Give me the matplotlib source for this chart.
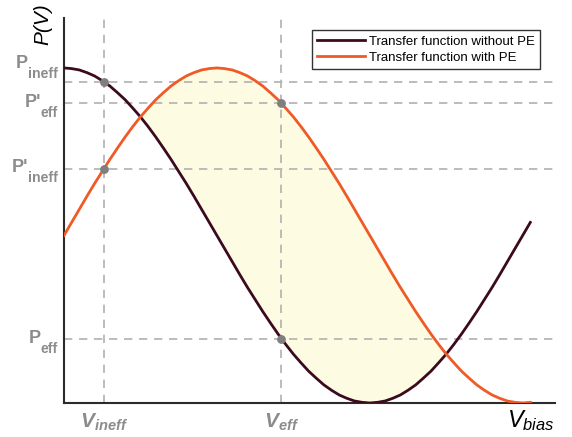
import matplotlib.pyplot as plt

plt.rcParams['font.family'] = ['Liberation Sans', 'DejaVu Sans']
plt.rcParams['mathtext.fontset'] = 'custom'
plt.rcParams['mathtext.rm'] = 'Liberation Sans'
plt.rcParams['mathtext.it'] = 'Liberation Sans:italic'
plt.rcParams['mathtext.bf'] = 'Liberation Sans:bold'
plt.rcParams['mathtext.sf'] = 'Liberation Sans:bold:italic'

# bias voltage (in units of pi) and normalised power
v_bias = [0.000, 0.025, 0.050, 0.075, 0.100, 0.125, 0.150, 0.175, 0.200, 0.225,
          0.250, 0.275, 0.300, 0.325, 0.350, 0.375, 0.400, 0.425, 0.450, 0.475,
          0.500, 0.525, 0.550, 0.575, 0.600, 0.625, 0.650, 0.675, 0.700, 0.725,
          0.750, 0.775, 0.800, 0.825, 0.850, 0.875, 0.900, 0.925, 0.950, 0.975,
          1.000, 1.025, 1.050, 1.075, 1.100, 1.125, 1.150, 1.175, 1.200, 1.225,
          1.250, 1.275, 1.300, 1.325, 1.350, 1.375, 1.400, 1.425, 1.450, 1.475,
          1.500, 1.525]
p_without_pe = [1.000, 0.998, 0.994, 0.986, 0.976, 0.962, 0.946, 0.926, 0.905, 0.880,
                0.854, 0.825, 0.794, 0.761, 0.727, 0.691, 0.655, 0.617, 0.578, 0.539,
                0.500, 0.461, 0.422, 0.383, 0.345, 0.309, 0.273, 0.239, 0.206, 0.175,
                0.146, 0.120, 0.095, 0.074, 0.054, 0.038, 0.024, 0.014, 0.006, 0.002,
                0.000, 0.002, 0.006, 0.014, 0.024, 0.038, 0.054, 0.074, 0.095, 0.120,
                0.146, 0.175, 0.206, 0.239, 0.273, 0.309, 0.345, 0.383, 0.422, 0.461,
                0.500, 0.539]
p_with_pe = [0.500, 0.539, 0.578, 0.617, 0.655, 0.691, 0.727, 0.761, 0.794, 0.825,
             0.854, 0.880, 0.905, 0.926, 0.946, 0.962, 0.976, 0.986, 0.994, 0.998,
             1.000, 0.998, 0.994, 0.986, 0.976, 0.962, 0.946, 0.926, 0.905, 0.880,
             0.854, 0.825, 0.794, 0.761, 0.727, 0.691, 0.655, 0.617, 0.578, 0.539,
             0.500, 0.461, 0.422, 0.383, 0.345, 0.309, 0.273, 0.239, 0.206, 0.175,
             0.146, 0.120, 0.095, 0.074, 0.054, 0.038, 0.024, 0.014, 0.006, 0.002,
             0.000, 0.002]

# operating points
v_ineff = 0.13
v_eff = 0.71
p_ineff = 0.958
p_eff = 0.191
p_prime_eff = 0.896
p_prime_ineff = 0.697

dark = '#3b0a1f'
orange = '#ef5a27'
grid_gray = '#b0b0b0'
label_gray = '#8c8c8c'

fig = plt.figure(figsize=(5.72, 4.37), dpi=100)
ax = fig.add_axes([0.1119, 0.0778, 0.858, 0.881])

# shaded region where PE curve sits above the plain one
ax.fill_between(v_bias, p_without_pe, p_with_pe,
                where=[b >= a for a, b in zip(p_without_pe, p_with_pe)],
                interpolate=True, color='#fdfce3', zorder=1)

# dashed guide lines
for v in [v_ineff, v_eff]:
    ax.axvline(v, color=grid_gray, ls=(0, (5, 4)), lw=1.2, zorder=2)
for p in [p_ineff, p_eff, p_prime_eff, p_prime_ineff]:
    ax.axhline(p, color=grid_gray, ls=(0, (5, 4)), lw=1.2, zorder=2)

ax.plot(v_bias, p_without_pe, color=dark, lw=2.0, label='Transfer function without PE', zorder=3)
ax.plot(v_bias, p_with_pe, color=orange, lw=2.0, label='Transfer function with PE', zorder=3)

ax.scatter([v_ineff, v_eff, v_ineff, v_eff],
           [p_ineff, p_eff, p_prime_ineff, p_prime_eff],
           s=40, color='#7f7f7f', zorder=4, linewidths=0)

ax.set_xlim(0, 1.605)
ax.set_ylim(0, 1.149)
ax.set_xticks([])
ax.set_yticks([])
for s in ['top', 'right']:
    ax.spines[s].set_visible(False)
for s in ['left', 'bottom']:
    ax.spines[s].set_color('#2b2b2b')
    ax.spines[s].set_linewidth(1.5)

# y side labels: main letter + subscript, shifted (pixels) from their line
ylabels = [(p_ineff, "P", "ineff", 14),
           (p_prime_eff, "P'", "eff", -4),
           (p_prime_ineff, "P'", "ineff", -3),
           (p_eff, "P", "eff", -4)]
renderer = fig.canvas.get_renderer()
for y, main, sub, shift in ylabels:
    t_sub = ax.annotate(sub, xy=(0, y), xycoords=('axes fraction', 'data'),
                        xytext=(-6, shift - 10), textcoords='offset pixels',
                        ha='right', va='baseline', fontsize=10.2,
                        fontweight='bold', color=label_gray, annotation_clip=False)
    w = t_sub.get_window_extent(renderer).width
    ax.annotate(main, xy=(0, y), xycoords=('axes fraction', 'data'),
                xytext=(-6 - w, shift), textcoords='offset pixels',
                ha='right', va='baseline', fontsize=13,
                fontweight='bold', color=label_gray, annotation_clip=False)

# x side labels
ax.text(v_ineff, -0.025, r'$\mathsf{V_{ineff}}$', ha='center', va='top', fontsize=15,
        color=label_gray, clip_on=False)
ax.text(v_eff, -0.025, r'$\mathsf{V_{eff}}$', ha='center', va='top', fontsize=15,
        color=label_gray, clip_on=False)
ax.text(1.605, -0.015, r'$V_{bias}$', ha='right', va='top', fontsize=17,
        color='black', clip_on=False)

fig.text(43 / 572, 1 - 24 / 437, 'P(V)', rotation=90, ha='center', va='center',
         fontsize=15, fontstyle='italic')

ax.legend(loc='upper right', bbox_to_anchor=(540 / 572, 1 - 30 / 437),
          bbox_transform=fig.transFigure, fontsize=9.5, frameon=True,
          fancybox=False, edgecolor='#333333', framealpha=1,
          handlelength=3.6, handletextpad=0.3, borderpad=0.4,
          labelspacing=0.3, borderaxespad=0)

plt.savefig('out.png', dpi=100)
